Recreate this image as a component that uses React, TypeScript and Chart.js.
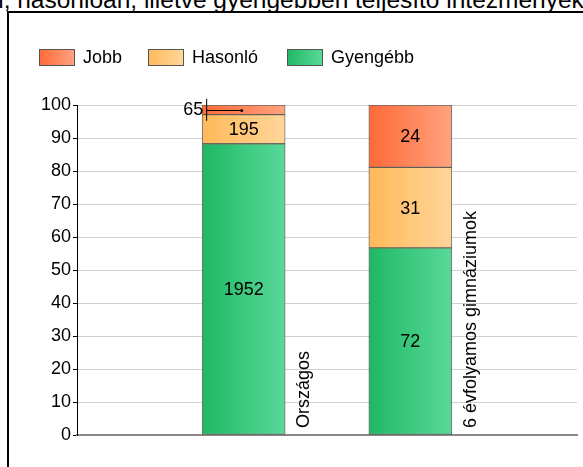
import React, { useEffect, useRef } from "react";
import { Chart, registerables } from "chart.js";

Chart.register(...registerables);

const categories = ["", "Országos", "6 évfolyamos gimnáziumok", ""];
const seriesNames = ["Gyengébb", "Hasonló", "Jobb"];
const gyengebb = [null, 1952, 72, null];
const hasonlo = [null, 195, 31, null];
const jobb = [null, 65, 24, null];
const yTicks = [0, 10, 20, 30, 40, 50, 60, 70, 80, 90, 100];
const titleText = "n, hasonlóan, illetve gyengébben teljesítő intézmények";

const gradients: [string, string][] = [
  ["#1fb864", "#58d998"],
  ["#ffb95a", "#ffd699"],
  ["#ff6a38", "#ffa27f"],
];
const legendOrder = [2, 1, 0];
const FONT = "'Liberation Sans', Arial, sans-serif";

const counts = [gyengebb, hasonlo, jobb];
const totals = categories.map((_, i) =>
  counts.reduce((s, arr) => s + (arr[i] ?? 0), 0)
);
const percents = counts.map((arr) =>
  arr.map((v, i) => (v == null ? null : (v / totals[i]) * 100))
);

const BAR_W = 83;

function makeGrad(chart: any, idx: number, ds: number) {
  const xs = chart.scales && chart.scales.x;
  if (!xs || idx == null || !chart.chartArea) return gradients[ds][0];
  const c = xs.getPixelForValue(idx);
  const g = chart.ctx.createLinearGradient(c - BAR_W / 2, 0, c + BAR_W / 2, 0);
  g.addColorStop(0, gradients[ds][0]);
  g.addColorStop(1, gradients[ds][1]);
  return g;
}

const labelsPlugin = {
  id: "customLabels",
  afterDatasetsDraw(chart: any) {
    const ctx = chart.ctx;
    ctx.save();
    ctx.font = `18px ${FONT}`;
    ctx.fillStyle = "#000";
    chart.data.datasets.forEach((_: any, di: number) => {
      const meta = chart.getDatasetMeta(di);
      meta.data.forEach((el: any, i: number) => {
        const v = counts[di][i];
        if (v == null) return;
        const top = Math.min(el.y, el.base);
        const bot = Math.max(el.y, el.base);
        const h = bot - top;
        const cy = (top + bot) / 2;
        if (h > 20) {
          ctx.textAlign = "center";
          ctx.textBaseline = "middle";
          ctx.fillText(String(v), el.x, cy + 1);
        } else {
          const left = el.x - BAR_W / 2;
          const lx = left + 4;
          ctx.strokeStyle = "#000";
          ctx.lineWidth = 1;
          ctx.beginPath();
          ctx.moveTo(el.x - 2, Math.round(cy) + 0.5);
          ctx.lineTo(lx, Math.round(cy) + 0.5);
          ctx.moveTo(lx + 0.5, cy - 11);
          ctx.lineTo(lx + 0.5, cy + 11);
          ctx.stroke();
          ctx.beginPath();
          ctx.arc(el.x - 2, Math.round(cy) + 0.5, 1.5, 0, Math.PI * 2);
          ctx.fill();
          ctx.textAlign = "right";
          ctx.textBaseline = "middle";
          ctx.fillText(String(v), left + 1, cy);
        }
      });
    });
    // category labels, rotated
    const xs = chart.scales.x;
    categories.forEach((c, i) => {
      if (!c) return;
      const x = xs.getPixelForValue(i) + BAR_W / 2 + 24;
      ctx.save();
      ctx.translate(x, chart.chartArea.bottom - 7);
      ctx.rotate(-Math.PI / 2);
      ctx.textAlign = "left";
      ctx.textBaseline = "alphabetic";
      ctx.fillText(c, 0, 0);
      ctx.restore();
    });
    ctx.restore();
  },
  afterDraw(chart: any) {
    const ctx = chart.ctx;
    ctx.save();
    const boxX = [39, 148, 287];
    ctx.font = `18px ${FONT}`;
    legendOrder.forEach((ds, k) => {
      const x = boxX[k];
      const y = 49;
      const g = ctx.createLinearGradient(x, 0, x + 35, 0);
      g.addColorStop(0, gradients[ds][0]);
      g.addColorStop(1, gradients[ds][1]);
      ctx.fillStyle = g;
      ctx.fillRect(x, y, 35, 16);
      ctx.strokeStyle = "#555";
      ctx.lineWidth = 1;
      ctx.strokeRect(x + 0.5, y + 0.5, 35, 16);
      ctx.fillStyle = "#000";
      ctx.textAlign = "left";
      ctx.textBaseline = "middle";
      ctx.fillText(seriesNames[ds], x + 44, y + 9);
    });
    ctx.restore();
  },
};

export default function App() {
  const ref = useRef<HTMLCanvasElement>(null);
  useEffect(() => {
    if (!ref.current) return;
    const chart = new Chart(ref.current, {
      type: "bar",
      data: {
        labels: categories,
        datasets: seriesNames.map((name, di) => ({
          label: name,
          data: percents[di] as any,
          backgroundColor: (c: any) => makeGrad(c.chart, c.dataIndex, di),
          borderColor: "rgba(70,65,60,0.75)",
          borderWidth: 1,
          borderSkipped: false,
          barThickness: BAR_W,
        })),
      },
      options: {
        responsive: false,
        animation: false,
        devicePixelRatio: 1,
        layout: { padding: { left: 0, top: 105, right: 6, bottom: 0 } },
        plugins: {
          legend: { display: false },
          title: { display: false },
          tooltip: { enabled: false },
        },
        scales: {
          x: {
            type: "category",
            stacked: true,
            offset: false,
            grid: { display: false },
            border: { display: true, color: "#8a8a8a", width: 2 },
            ticks: { display: false },
            afterFit: (s: any) => {
              s.height = 32;
            },
          },
          y: {
            stacked: true,
            min: 0,
            max: 100,
            afterBuildTicks: (s: any) => {
              s.ticks = yTicks.map((v) => ({ value: v }));
            },
            grid: {
              color: "#d2d2d2",
              tickColor: "#000",
              tickLength: 4,
              lineWidth: 1,
            },
            border: { display: true, color: "#000", width: 1 },
            ticks: {
              color: "#000",
              padding: 2,
              font: { size: 18, family: FONT },
            },
            afterFit: (s: any) => {
              s.width = 77;
            },
          },
        },
      },
      plugins: [labelsPlugin],
    });
    return () => chart.destroy();
  }, []);

  return (
    <div
      style={{
        position: "absolute",
        left: 0,
        top: 0,
        width: 583,
        height: 467,
        overflow: "hidden",
        background: "#fff",
      }}
    >
      <div
        style={{
          position: "absolute",
          left: -10,
          top: -12,
          whiteSpace: "nowrap",
          font: `24.5px ${FONT}`,
          lineHeight: "24.5px",
          color: "#000",
        }}
      >
        {titleText}
      </div>
      <div
        style={{
          position: "absolute",
          left: 7,
          top: 11,
          width: 700,
          height: 600,
          border: "2px solid #000",
        }}
      />
      <canvas
        ref={ref}
        width={583}
        height={467}
        style={{ position: "absolute", left: 0, top: 0, width: 583, height: 467 }}
      />
    </div>
  );
}
